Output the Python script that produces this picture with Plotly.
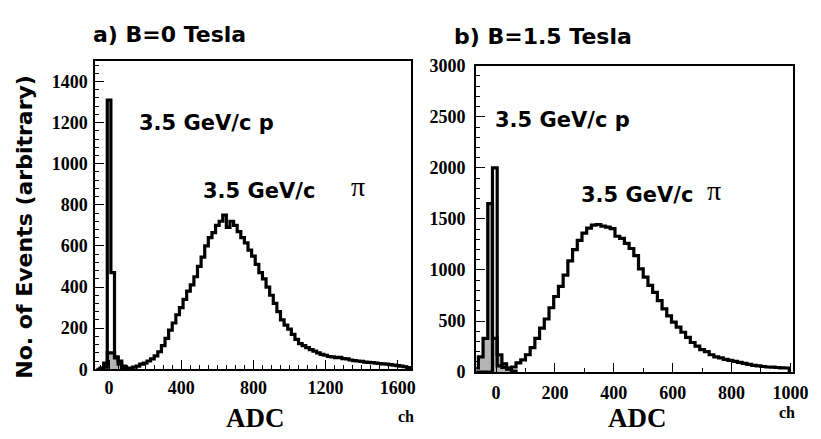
import plotly.graph_objects as go

W, H = 821, 439

# ---------------- data ----------------
# panel a) B = 0 Tesla, bins of 20 ADC ch
a_bin_width = 20
a_pion_start = -70
a_pion = [0, 0, 10, 1310,
          470, 60, 40, 15, 5, 5, 10, 15, 25, 30,
          40, 50, 65, 85, 115, 150, 190, 225, 265, 300,
          340, 380, 410, 450, 500, 545, 600, 640, 665, 700,
          720, 750, 690, 720, 700, 670, 640, 615, 580, 550,
          510, 470, 440, 400, 360, 320, 280, 240, 215, 195,
          170, 145, 125, 115, 105, 95, 88, 80, 72, 68,
          62, 60, 56, 58, 52, 50, 45, 42, 40, 38,
          35, 33, 32, 30, 28, 26, 25, 22, 20, 18,
          15, 12, 8]
a_proton_start = -50
a_proton = [5, 30, 80, 80, 55, 25, 8, 3]

# panel b) B = 1.5 Tesla, bins of 16 ADC ch
b_bin_width = 16
b_pion_start = -76
b_pion = [0, 0, 0, 0, 2000,
          60, 45, 40, 50, 90, 120, 170, 240, 330, 430,
          520, 630, 740, 840, 950, 1090, 1200, 1290, 1360, 1410,
          1440, 1445, 1430, 1420, 1405, 1330, 1310, 1260, 1210, 1140,
          1010, 930, 850, 780, 700, 620, 550, 490, 440, 390,
          340, 290, 255, 220, 200, 170, 150, 140, 125, 115,
          105, 95, 85, 75, 65, 60, 55, 50, 48, 45,
          42, 40]
b_proton_start = -76
b_proton = [40, 150, 330, 1650, 330, 170, 80, 30, 10]

a_xticks = [0, 400, 800, 1200, 1600]
a_yticks = [0, 200, 400, 600, 800, 1000, 1200, 1400]
b_xticks = [0, 200, 400, 600, 800, 1000]
b_yticks = [0, 500, 1000, 1500, 2000, 2500, 3000]


def step_xy(start, width, vals):
    edges = [start + i * width for i in range(len(vals) + 1)]
    x = [edges[0]] + edges[:-1] + [edges[-1]]
    y = [0] + list(vals) + [0]
    return x, y


fig = go.Figure()

for (start, vals, xa, ya, fill) in [
    (a_proton_start, a_proton, "x", "y", True),
    (a_pion_start, a_pion, "x", "y", False),
    (b_proton_start, b_proton, "x2", "y2", True),
    (b_pion_start, b_pion, "x2", "y2", False),
]:
    bw = a_bin_width if xa == "x" else b_bin_width
    x, y = step_xy(start, bw, vals)
    fig.add_trace(go.Scatter(
        x=x, y=y, xaxis=xa, yaxis=ya, mode="lines",
        line=dict(shape="hv", color="black", width=3.2),
        fill="tozeroy" if fill else None,
        fillcolor="#b4b4b4" if fill else None,
        hoverinfo="skip", showlegend=False))

SERIF = "Liberation Serif"


def axis_style(domain, rng, anchor, tickvals, minor_dtick, standoff):
    return dict(
        domain=domain, range=rng, anchor=anchor,
        showline=True, linecolor="black", linewidth=2.2, mirror=True,
        ticks="inside", ticklen=9, tickwidth=1.4, tickcolor="black",
        showgrid=False, zeroline=False,
        tickmode="array", tickvals=tickvals,
        ticktext=["<b>%d</b>" % v for v in tickvals],
        tickfont=dict(family=SERIF, size=18, color="black"),
        ticklabelstandoff=standoff,
        minor=dict(ticks="inside", ticklen=4, tickwidth=1, tickcolor="black",
                   dtick=minor_dtick, tick0=0),
    )


fig.update_layout(
    width=W, height=H,
    margin=dict(l=0, r=0, t=0, b=0),
    paper_bgcolor="white", plot_bgcolor="white",
    showlegend=False,
    xaxis=axis_style([89 / W, 411 / W], [-76, 1676], "y", a_xticks, 50, 1),
    yaxis=axis_style([1 - 368 / H, 1 - 45 / H], [0, 1500], "x", a_yticks, 40, 2),
    xaxis2=axis_style([477 / W, 800 / W], [-67, 1010], "y2", b_xticks, 100, 3),
    yaxis2=axis_style([1 - 371 / H, 1 - 50 / H], [0, 3000], "x2", b_yticks, 100, 5),
)

sans = "DejaVu Sans"
serif = "Liberation Serif"


def ann(text, px, py, size, family, bold=True, xanchor="center", angle=0):
    fig.add_annotation(
        text=text, x=px / W, y=1 - py / H, xref="paper", yref="paper",
        xanchor=xanchor, yanchor="middle", showarrow=False, textangle=angle,
        font=dict(family=family, size=size, color="black",
                  weight="bold" if bold else "normal"))


ann("a) B=0 Tesla", 85, 17, 22, sans, xanchor="left")
ann("b) B=1.5 Tesla", 452, 19, 22, sans, xanchor="left")
ann("No. of Events (arbitrary)", 16, 219, 22, sans, angle=-90)
ann("3.5 GeV/c p", 202, 110, 21, sans)
ann("3.5 GeV/c", 256, 181, 21, sans)
ann("π", 357, 177, 28, serif, bold=False)
ann("3.5 GeV/c p", 565, 107, 21, sans)
ann("3.5 GeV/c", 641, 185, 21, sans)
ann("π", 719, 181, 28, serif, bold=False)
ann("ADC", 252, 419, 27, serif)
ann("ADC", 641, 419, 27, serif)
ann("ch", 405, 417, 16, serif)
ann("ch", 793, 413, 16, serif)

fig.write_html("out.html")
